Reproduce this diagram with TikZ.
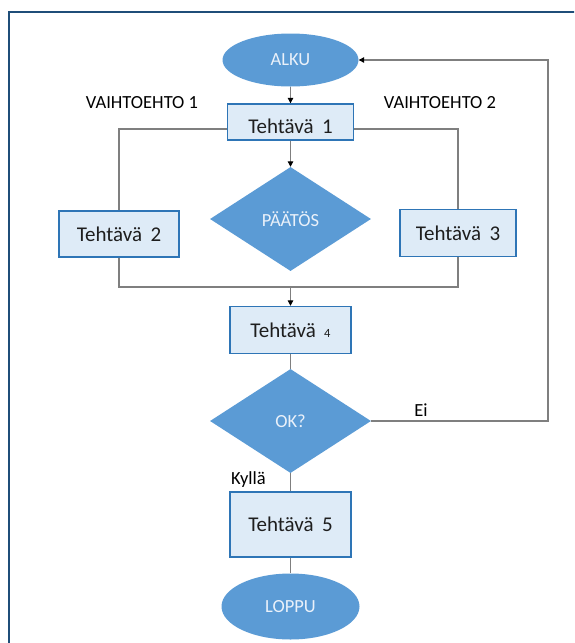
\documentclass[tikz,border=0pt]{standalone}
\usepackage{fontspec}
\setmainfont{Carlito}
\usetikzlibrary{shapes.geometric,arrows.meta}
\definecolor{shapeblue}{HTML}{5B9BD5}
\definecolor{boxfill}{HTML}{DEEBF7}
\definecolor{boxedge}{HTML}{2E75B6}
\definecolor{framecol}{HTML}{1F4E79}
\definecolor{linecol}{HTML}{7F7F7F}
\definecolor{palette}{HTML}{EAF1FA}
\definecolor{txt}{HTML}{1E1E1E}
\tikzset{
  x=1pt, y=1pt,
  termnode/.style={ellipse, fill=shapeblue, draw=none, inner sep=0pt,
    text=palette, font=\fontsize{18.5}{20}\selectfont},
  decnode/.style={diamond, fill=shapeblue, draw=none, inner sep=0pt,
    minimum width=161pt, minimum height=104pt,
    text=palette, font=\fontsize{18.5}{20}\selectfont},
  taskbox/.style={rectangle, fill=boxfill, draw=boxedge, line width=1.4pt,
    inner sep=0pt, text=txt, font=\fontsize{21}{23}\selectfont},
  lbl/.style={text=black, inner sep=0pt, font=\fontsize{18.5}{20}\selectfont},
  conn/.style={draw=linecol, line width=1.1pt},
  arr/.style={conn, -{Triangle[length=5.5pt,width=5.5pt,color=black]}}
}
\begin{document}
\begin{tikzpicture}
\clip (0,0) rectangle (574,-643);
% frame
\draw[framecol, line width=2pt] (9,-660) -- (9,-12) -- (600,-12);

% nodes
\node[termnode, minimum width=136pt, minimum height=53pt] (alku) at (290.5,-60) {ALKU};
\node[taskbox, minimum width=126pt, minimum height=36pt, text height=23pt, text depth=0pt] (t1) at (290.5,-122) {Tehtävä\hspace{0.4em}1};
\node[lbl] (v1) at (142,-103) {VAIHTOEHTO 1};
\node[lbl] (v2) at (440,-103) {VAIHTOEHTO 2};
\node[decnode] (paatos) at (290.5,-219) {PÄÄTÖS};
\node[taskbox, minimum width=120pt, minimum height=46pt] (t2) at (119,-234) {Tehtävä\hspace{0.4em}2};
\node[taskbox, minimum width=116pt, minimum height=47pt] (t3) at (458,-233) {Tehtävä\hspace{0.4em}3};
\node[taskbox, minimum width=121pt, minimum height=47pt] (t4) at (290.5,-330) {Tehtävä\hspace{0.4em}{\fontsize{12.5}{14}\selectfont 4}};
\node[decnode] (ok) at (290.5,-421) {OK?};
\node[lbl] (ei) at (421,-410) {Ei};
\node[lbl, anchor=west] (kylla) at (231,-480) {Kyllä};
\node[taskbox, minimum width=121pt, minimum height=65pt] (t5) at (290.5,-524.5) {Tehtävä\hspace{0.4em}5};
\node[termnode, minimum width=138pt, minimum height=66pt] (loppu) at (290.5,-606.5) {LOPPU};

% helper coordinates
\coordinate (t1l) at ([yshift=-7pt]t1.west);
\coordinate (t1r) at ([yshift=-7pt]t1.east);
\coordinate (join) at (290.5,-287);
\coordinate (loopc) at (548,-421);

% connectors
\draw[arr] (alku.south) -- (t1.north);
\draw[arr] (t1.south) -- (paatos.north);
\draw[conn] (t1l) -| (t2.north);
\draw[conn] (t1r) -| (t3.north);
\draw[conn] (t2.south) |- (join);
\draw[conn] (t3.south) |- (join);
\draw[arr] (join) -- (t4.north);
\draw[conn] (t4.south) -- (ok.north);
\draw[arr] (ok.east) -- (loopc) |- (alku.east);
\draw[conn] (ok.south) -- (t5.north);
\draw[conn] (t5.south) -- (loppu.north);
\end{tikzpicture}
\end{document}
